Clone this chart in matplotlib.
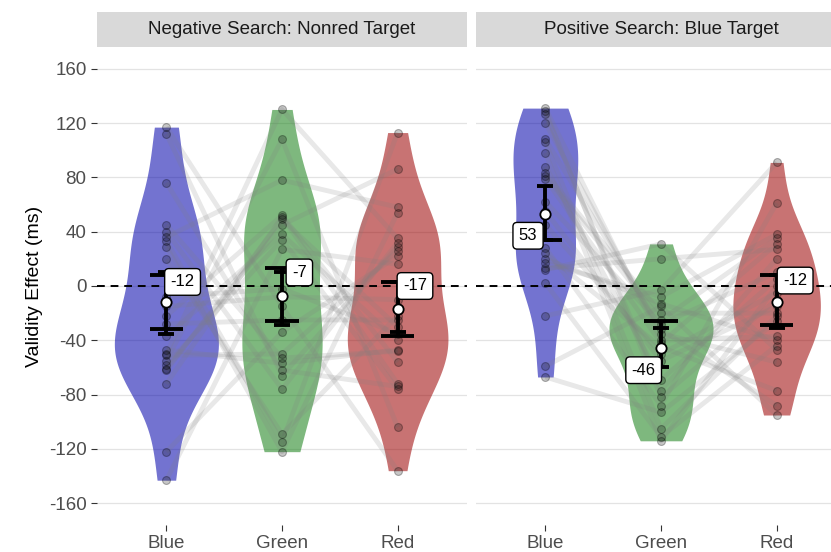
import numpy as np
import matplotlib.pyplot as plt

plt.rcParams['font.family'] = ['Liberation Sans', 'DejaVu Sans']
plt.rcParams['axes.unicode_minus'] = False

colours = ['Blue', 'Green', 'Red']
panel_titles = ['Negative Search: Nonred Target', 'Positive Search: Blue Target']

# per-subject validity effects (ms), same subject order in every list
neg_blue = [45, -143, 117, -50, 20, -61, 76, -22, -122, 33, -55, 112, -37, 29, -72, -47, 40, -58, 36, -51, -62, -15, -28, -8]
neg_green = [-53, 27, -15, 130, -109, 45, -62, 52, -34, -115, 108, -66, 38, -122, 51, -57, -76, 34, 78, -50, 49, -8, -25, -2]
neg_red = [-48, 16, -136, 35, -22, 86, -74, -56, 22, 113, -104, 29, -40, 54, -72, -47, 32, -76, 58, 26, -30, -10, -25, -35]
pos_blue = [131, 28, -59, 106, 13, 88, 120, 2, 81, -22, 129, 24, 98, 17, -67, 108, 79, 12, 127, 20, 83, 45, 55, 62]
pos_green = [-40, -88, -15, -105, 20, -69, -35, -111, -25, -3, -82, -45, -114, -8, -93, -32, -42, 31, -77, -13, -20, -50, -55, -28]
pos_red = [-37, 61, -95, -22, 27, 5, -56, -44, 35, 91, -10, -77, 0, 38, -26, -88, 31, -47, 20, -40, -20, -5, -15, 10]

# condition means and error bar ends (wide and narrow caps), nan = cap not shown
means = [[-12, -7, -17], [53, -46, -12]]
wide_lo = [[-32, -26, -37], [34, np.nan, -29]]
wide_hi = [[8, 13, 3], [np.nan, -26, 8]]
narrow_lo = [[-35, -29, -34], [34, -60, -31]]
narrow_hi = [[10, 10, 3], [74, -31, 8]]

# label placement (x offset in category units, y position) - like ggrepel did
label_dx = [[0.14, 0.15, 0.15], [-0.15, -0.15, 0.16]]
label_y = [[3, 10, 0], [37, -62, 4]]

data = [[neg_blue, neg_green, neg_red], [pos_blue, pos_green, pos_red]]
fills = ['#0000AA', '#147F14', '#9B0000']


def kde(vals, grid, adjust=1.0):
    vals = np.asarray(vals, float)
    n = len(vals)
    sd = vals.std(ddof=1)
    iqr = np.percentile(vals, 75) - np.percentile(vals, 25)
    bw = adjust * 0.9 * min(sd, iqr / 1.34) * n ** -0.2
    z = (grid[:, None] - vals[None, :]) / bw
    return np.exp(-0.5 * z ** 2).sum(axis=1) / (n * bw * np.sqrt(2 * np.pi))


W, H = 831, 552
fig = plt.figure(figsize=(W / 100, H / 100), dpi=100)


def px_box(x0, y0, x1, y1):
    return [x0 / W, 1 - y1 / H, (x1 - x0) / W, (y1 - y0) / H]


panel_x = [(97, 467), (476, 846)]
for p in range(2):
    x0, x1 = panel_x[p]
    ax = fig.add_axes(px_box(x0, 47, x1, 525))
    strip = fig.add_axes(px_box(x0, 12, x1, 47))
    strip.set_facecolor('#D9D9D9')
    strip.set_xticks([])
    strip.set_yticks([])
    for s in strip.spines.values():
        s.set_visible(False)
    strip.text(0.5, 0.5, panel_titles[p], ha='center', va='center', fontsize=13.5,
               color='#1A1A1A', transform=strip.transAxes)

    ax.set_xlim(0.4, 3.6)
    ax.set_ylim(-176, 176)
    ax.set_yticks(np.arange(-160, 161, 40))
    ax.grid(axis='y', color='#E3E3E3', lw=0.9)
    ax.set_axisbelow(True)
    for s in ax.spines.values():
        s.set_visible(False)
    ax.set_xticks([1, 2, 3])
    ax.set_xticklabels(colours)
    ax.tick_params(axis='both', colors='#333333', labelcolor='#4D4D4D', labelsize=13.5, length=4, width=0.8)
    if p == 1:
        ax.tick_params(axis='y', left=False, labelleft=False)
    else:
        ax.set_ylabel('Validity Effect (ms)', fontsize=14, color='black', labelpad=4)

    grid_sets = []
    dens_sets = []
    for c in range(3):
        v = np.asarray(data[p][c], float)
        g = np.linspace(v.min(), v.max(), 512)
        grid_sets.append(g)
        dens_sets.append(kde(v, g))
    dmax = max(d.max() for d in dens_sets)

    for c in range(3):
        hw = dens_sets[c] / dmax * 0.45
        ax.fill_betweenx(grid_sets[c], c + 1 - hw, c + 1 + hw, color=fills[c], alpha=0.55, lw=0, zorder=1)

    vals = np.array(data[p], float)
    for i in range(vals.shape[1]):
        ax.plot([1, 2, 3], vals[:, i], color='#808080', alpha=0.18, lw=3.5, zorder=2, solid_capstyle='butt')

    for c in range(3):
        ax.scatter(np.full(vals.shape[1], c + 1), vals[c], s=32, facecolor=(0, 0, 0, 0.22),
                   edgecolor=(0, 0, 0, 0.3), linewidth=0.8, zorder=3)

    ax.axhline(0, color='black', lw=1.4, ls=(0, (4, 3)), zorder=3.5)

    for c in range(3):
        x = c + 1
        ends = [wide_lo[p][c], wide_hi[p][c], narrow_lo[p][c], narrow_hi[p][c]]
        ends = [e for e in ends if not np.isnan(e)]
        ax.plot([x, x], [min(ends), max(ends)], color='black', lw=2.8, zorder=4, solid_capstyle='butt')
        for e, hw in [(wide_lo[p][c], 0.145), (wide_hi[p][c], 0.145),
                      (narrow_lo[p][c], 0.07), (narrow_hi[p][c], 0.07)]:
            if not np.isnan(e):
                ax.plot([x - hw, x + hw], [e, e], color='black', lw=2.8, zorder=4, solid_capstyle='butt')
        ax.scatter([x], [means[p][c]], s=55, facecolor='white', edgecolor='black', linewidth=1.3, zorder=5)
        ax.text(x + label_dx[p][c], label_y[p][c], str(means[p][c]), ha='center', va='center',
                fontsize=12, color='black', zorder=6,
                bbox=dict(boxstyle='round,pad=0.35,rounding_size=0.25', fc='white', ec='black', lw=1))

fig.savefig('out.png', dpi=100)
